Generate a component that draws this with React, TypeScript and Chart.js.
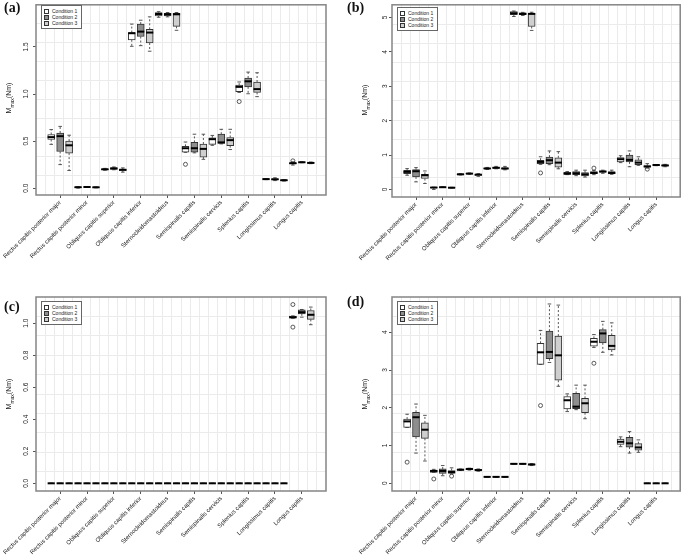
import React, { useEffect, useRef } from "react";
import { Chart, registerables } from "chart.js";

Chart.register(...registerables);

// ---------------- data ----------------
const MUSCLES = [
  "Rectus capitis posterior major",
  "Rectus capitis posterior minor",
  "Obliquus capitis superior",
  "Obliquus capitis inferior",
  "Sternocleidomastoideus",
  "Semispinalis capitis",
  "Semispinalis cervicis",
  "Splenius capitis",
  "Longissimus capitis",
  "Longus capitis",
];
const CONDITIONS = ["Condition 1", "Condition 2", "Condition 3"];

// each entry: [lower whisker, Q1, median, Q3, upper whisker]
const A_COND1 = [
  [0.465, 0.517, 0.542, 0.57, 0.622],
  [0.0, 0.008, 0.01, 0.012, 0.015],
  [0.19, 0.197, 0.2, 0.205, 0.21],
  [1.507, 1.576, 1.646, 1.653, 1.743],
  [1.816, 1.83, 1.85, 1.865, 1.875],
  [0.38, 0.382, 0.424, 0.444, 0.49],
  [0.455, 0.465, 0.52, 0.535, 0.56],
  [1.017, 1.024, 1.076, 1.094, 1.128],
  [0.09, 0.093, 0.096, 0.099, 0.1],
  [0.245, 0.258, 0.265, 0.27, 0.28],
];
const A_COND2 = [
  [0.25, 0.389, 0.552, 0.586, 0.656],
  [0.01, 0.011, 0.012, 0.013, 0.015],
  [0.195, 0.2, 0.21, 0.215, 0.225],
  [1.514, 1.611, 1.663, 1.743, 1.784],
  [1.82, 1.83, 1.847, 1.858, 1.866],
  [0.375, 0.382, 0.424, 0.486, 0.573],
  [0.47, 0.476, 0.486, 0.573, 0.625],
  [1.003, 1.076, 1.135, 1.17, 1.233],
  [0.08, 0.088, 0.094, 0.1, 0.11],
  [0.27, 0.272, 0.275, 0.277, 0.28],
];
const A_COND3 = [
  [0.1875, 0.372, 0.455, 0.5, 0.5625],
  [0.003, 0.007, 0.009, 0.011, 0.013],
  [0.17, 0.185, 0.195, 0.2, 0.215],
  [1.455, 1.542, 1.653, 1.6875, 1.82],
  [1.677, 1.719, 1.847, 1.858, 1.866],
  [0.306, 0.33, 0.417, 0.469, 0.573],
  [0.41, 0.451, 0.51, 0.538, 0.625],
  [0.972, 1.017, 1.052, 1.128, 1.226],
  [0.075, 0.08, 0.084, 0.088, 0.09],
  [0.26, 0.264, 0.268, 0.272, 0.277],
];
// [muscle index, condition index, value]
const A_OUTLIERS = [
  [5, 0, 0.253],
  [7, 0, 0.92],
  [9, 0, 0.29],
];

const B_COND1 = [
  [0.413, 0.462, 0.51, 0.558, 0.606],
  [0.0, 0.05, 0.055, 0.06, 0.065],
  [0.42, 0.43, 0.44, 0.45, 0.46],
  [0.58, 0.6, 0.61, 0.62, 0.64],
  [5.03, 5.08, 5.125, 5.17, 5.19],
  [0.73, 0.75, 0.8, 0.85, 0.95],
  [0.43, 0.44, 0.46, 0.5, 0.52],
  [0.43, 0.46, 0.48, 0.52, 0.55],
  [0.78, 0.8, 0.88, 0.93, 0.98],
  [0.62, 0.65, 0.67, 0.69, 0.75],
];
const B_COND2 = [
  [0.22, 0.365, 0.529, 0.577, 0.635],
  [0.06, 0.062, 0.065, 0.07, 0.075],
  [0.44, 0.45, 0.46, 0.47, 0.48],
  [0.6, 0.61, 0.63, 0.64, 0.67],
  [5.06, 5.08, 5.106, 5.14, 5.15],
  [0.72, 0.75, 0.85, 0.94, 1.12],
  [0.4, 0.43, 0.47, 0.52, 0.56],
  [0.47, 0.5, 0.52, 0.54, 0.56],
  [0.66, 0.8, 0.86, 1.0, 1.12],
  [0.69, 0.7, 0.71, 0.72, 0.72],
];
const B_COND3 = [
  [0.173, 0.317, 0.413, 0.44, 0.538],
  [0.04, 0.045, 0.05, 0.058, 0.062],
  [0.38, 0.41, 0.43, 0.44, 0.46],
  [0.57, 0.59, 0.61, 0.63, 0.67],
  [4.625, 4.74, 5.106, 5.125, 5.154],
  [0.6, 0.65, 0.78, 0.92, 1.1],
  [0.36, 0.39, 0.44, 0.49, 0.56],
  [0.44, 0.46, 0.48, 0.52, 0.56],
  [0.7, 0.72, 0.78, 0.86, 0.95],
  [0.66, 0.68, 0.7, 0.71, 0.73],
];
const B_OUTLIERS = [
  [5, 0, 0.48],
  [7, 0, 0.62],
  [9, 0, 0.59],
];

const C_COND1 = [
  [0, 0, 0, 0, 0], [0, 0, 0, 0, 0], [0, 0, 0, 0, 0], [0, 0, 0, 0, 0], [0, 0, 0, 0, 0],
  [0, 0, 0, 0, 0], [0, 0, 0, 0, 0], [0, 0, 0, 0, 0], [0, 0, 0, 0, 0],
  [1.03, 1.031, 1.037, 1.044, 1.045],
];
const C_COND2 = [
  [0, 0, 0, 0, 0], [0, 0, 0, 0, 0], [0, 0, 0, 0, 0], [0, 0, 0, 0, 0], [0, 0, 0, 0, 0],
  [0, 0, 0, 0, 0], [0, 0, 0, 0, 0], [0, 0, 0, 0, 0], [0, 0, 0, 0, 0],
  [1.037, 1.058, 1.068, 1.083, 1.085],
];
const C_COND3 = [
  [0, 0, 0, 0, 0], [0, 0, 0, 0, 0], [0, 0, 0, 0, 0], [0, 0, 0, 0, 0], [0, 0, 0, 0, 0],
  [0, 0, 0, 0, 0], [0, 0, 0, 0, 0], [0, 0, 0, 0, 0], [0, 0, 0, 0, 0],
  [0.99, 1.023, 1.052, 1.079, 1.1],
];
const C_OUTLIERS = [
  [9, 0, 1.116],
  [9, 0, 0.975],
];

const D_COND1 = [
  [1.48, 1.48, 1.64, 1.7, 1.83],
  [0.29, 0.291, 0.327, 0.353, 0.37],
  [0.34, 0.35, 0.36, 0.37, 0.38],
  [0.165, 0.168, 0.17, 0.172, 0.175],
  [0.505, 0.51, 0.515, 0.52, 0.525],
  [3.15, 3.15, 3.47, 3.71, 4.05],
  [1.9, 1.97, 2.2, 2.3, 2.37],
  [3.6, 3.63, 3.75, 3.84, 3.94],
  [0.97, 1.03, 1.1, 1.17, 1.23],
  [0, 0, 0, 0, 0],
];
const D_COND2 = [
  [0.8, 1.23, 1.75, 1.88, 2.1],
  [0.2, 0.265, 0.327, 0.38, 0.47],
  [0.35, 0.36, 0.38, 0.39, 0.4],
  [0.165, 0.168, 0.17, 0.172, 0.175],
  [0.505, 0.51, 0.515, 0.52, 0.525],
  [3.2, 3.3, 3.48, 4.03, 4.75],
  [1.95, 1.98, 2.03, 2.38, 2.6],
  [3.47, 3.72, 3.97, 4.07, 4.29],
  [0.8, 0.96, 1.06, 1.22, 1.37],
  [0, 0, 0, 0, 0],
];
const D_COND3 = [
  [0.59, 1.19, 1.42, 1.6, 1.8],
  [0.25, 0.26, 0.3, 0.34, 0.41],
  [0.32, 0.34, 0.35, 0.37, 0.38],
  [0.16, 0.165, 0.17, 0.172, 0.175],
  [0.47, 0.48, 0.5, 0.51, 0.52],
  [2.57, 2.73, 3.39, 3.9, 4.72],
  [1.71, 1.87, 2.12, 2.25, 2.6],
  [3.4, 3.53, 3.64, 3.92, 4.25],
  [0.82, 0.88, 0.95, 1.05, 1.15],
  [0, 0, 0, 0, 0],
];
const D_OUTLIERS = [
  [0, 0, 0.56],
  [1, 0, 0.115],
  [1, 2, 0.19],
  [5, 0, 2.06],
  [7, 0, 3.18],
];

const A_Y_TICKS = [0, 0.5, 1, 1.5];
const A_Y_LABELS = ["0.0", "0.5", "1.0", "1.5"];
const B_Y_TICKS = [0, 1, 2, 3, 4, 5];
const B_Y_LABELS = ["0", "1", "2", "3", "4", "5"];
const C_Y_TICKS = [0, 0.2, 0.4, 0.6, 0.8, 1.0];
const C_Y_LABELS = ["0.0", "0.2", "0.4", "0.6", "0.8", "1.0"];
const D_Y_TICKS = [0, 1, 2, 3, 4];
const D_Y_LABELS = ["0", "1", "2", "3", "4"];

// ---------------- styling / layout ----------------
const FILLS = ["#ffffff", "#8e8e8e", "#cfcfcf"];
const FONT = "'Liberation Sans', Arial, sans-serif";
const X_MIN = -0.7;
const X_MAX = 31.7;

type Spec = {
  label: string;
  left: number;
  top: number;
  width: number;
  height: number;
  area: { l: number; t: number; r: number; b: number };
  yMin: number;
  yMax: number;
  yTicks: number[];
  yLabels: string[];
  conds: number[][][];
  outliers: number[][];
  labelPos: { x: number; y: number };
};

const PANELS: Spec[] = [
  {
    label: "(a)", left: 0, top: 0, width: 342, height: 277,
    area: { l: 36, t: 1, r: 326, b: 195 },
    yMin: -0.073, yMax: 1.948, yTicks: A_Y_TICKS, yLabels: A_Y_LABELS,
    conds: [A_COND1, A_COND2, A_COND3], outliers: A_OUTLIERS,
    labelPos: { x: 4, y: 1 },
  },
  {
    label: "(b)", left: 342, top: 0, width: 343, height: 277,
    area: { l: 50, t: 3, r: 341, b: 197 },
    yMin: -0.22, yMax: 5.37, yTicks: B_Y_TICKS, yLabels: B_Y_LABELS,
    conds: [B_COND1, B_COND2, B_COND3], outliers: B_OUTLIERS,
    labelPos: { x: 5, y: 1 },
  },
  {
    label: "(c)", left: 0, top: 277, width: 342, height: 278,
    area: { l: 36, t: 20, r: 326, b: 214 },
    yMin: -0.048, yMax: 1.163, yTicks: C_Y_TICKS, yLabels: C_Y_LABELS,
    conds: [C_COND1, C_COND2, C_COND3], outliers: C_OUTLIERS,
    labelPos: { x: 4, y: 23 },
  },
  {
    label: "(d)", left: 342, top: 277, width: 343, height: 278,
    area: { l: 50, t: 20, r: 341, b: 214 },
    yMin: -0.204, yMax: 4.935, yTicks: D_Y_TICKS, yLabels: D_Y_LABELS,
    conds: [D_COND1, D_COND2, D_COND3], outliers: D_OUTLIERS,
    labelPos: { x: 5, y: 18 },
  },
];

const boxPos = (mi: number, ci: number) => mi * 3 + ci + 1;

function makeBoxPlugin(spec: Spec) {
  return {
    id: "boxWhiskers",
    beforeDatasetsDraw(chart: any) {
      const { ctx } = chart;
      const x = chart.scales.x;
      const y = chart.scales.y;
      ctx.save();
      spec.conds.forEach((cond, ci) =>
        cond.forEach((s, mi) => {
          const p = boxPos(mi, ci);
          const px = x.getPixelForValue(p);
          const cap = x.getPixelForValue(p + 0.2) - px;
          const yLo = y.getPixelForValue(s[0]);
          const yQ1 = y.getPixelForValue(s[1]);
          const yQ3 = y.getPixelForValue(s[3]);
          const yHi = y.getPixelForValue(s[4]);
          ctx.strokeStyle = "#444";
          ctx.lineWidth = 0.9;
          ctx.setLineDash([2, 2]);
          ctx.beginPath();
          ctx.moveTo(px, yQ3);
          ctx.lineTo(px, yHi);
          ctx.moveTo(px, yQ1);
          ctx.lineTo(px, yLo);
          ctx.stroke();
          ctx.setLineDash([]);
          ctx.beginPath();
          ctx.moveTo(px - cap, yHi);
          ctx.lineTo(px + cap, yHi);
          ctx.moveTo(px - cap, yLo);
          ctx.lineTo(px + cap, yLo);
          ctx.stroke();
        })
      );
      ctx.restore();
    },
    afterDatasetsDraw(chart: any) {
      const { ctx } = chart;
      const x = chart.scales.x;
      const y = chart.scales.y;
      ctx.save();
      ctx.strokeStyle = "#000";
      ctx.lineWidth = 2;
      spec.conds.forEach((cond, ci) =>
        cond.forEach((s, mi) => {
          const p = boxPos(mi, ci);
          const x0 = x.getPixelForValue(p - 0.4);
          const x1 = x.getPixelForValue(p + 0.4);
          const ym = y.getPixelForValue(s[2]);
          ctx.beginPath();
          ctx.moveTo(x0, ym);
          ctx.lineTo(x1, ym);
          ctx.stroke();
        })
      );
      ctx.restore();
    },
    afterDraw(chart: any) {
      const { ctx, chartArea: a } = chart;
      ctx.save();
      ctx.strokeStyle = "#858585";
      ctx.lineWidth = 1.5;
      ctx.strokeRect(a.left, a.top, a.right - a.left, a.bottom - a.top);
      ctx.restore();
    },
  };
}

function buildConfig(spec: Spec): any {
  const { width: W, height: H, area, yMin, yMax } = spec;
  const datasets: any[] = spec.conds.map((cond, ci) => ({
    type: "bar",
    label: CONDITIONS[ci],
    xAxisID: "x",
    yAxisID: "y",
    data: cond.map((s, mi) => ({ x: boxPos(mi, ci), y: [s[1], s[3]] })),
    backgroundColor: FILLS[ci],
    borderColor: "#333",
    borderWidth: 1,
    borderSkipped: false,
    barThickness: 7,
    grouped: false,
    order: 2,
  }));
  datasets.push({
    type: "scatter",
    label: "outliers",
    xAxisID: "x",
    yAxisID: "y",
    data: spec.outliers.map(([mi, ci, v]) => ({ x: boxPos(mi, ci), y: v })),
    pointStyle: "circle",
    pointRadius: 2,
    borderColor: "#333",
    backgroundColor: "rgba(0,0,0,0)",
    borderWidth: 0.8,
    order: 1,
  });

  const gridX: number[] = [];
  for (let k = 1; k < 32; k++) gridX.push(X_MIN + (k * (X_MAX - X_MIN)) / 32);
  const gridY: number[] = [];
  for (let k = 1; k < 10; k++) gridY.push(yMin + (k * (yMax - yMin)) / 10);

  const zeroPad = (s: any) => {
    s.paddingLeft = 0;
    s.paddingRight = 0;
    s.paddingTop = 0;
    s.paddingBottom = 0;
  };

  return {
    type: "bar",
    data: { datasets },
    plugins: [makeBoxPlugin(spec)],
    options: {
      responsive: false,
      animation: false,
      devicePixelRatio: 1,
      layout: { padding: { left: 0, top: area.t, right: W - area.r, bottom: 0 } },
      plugins: { legend: { display: false }, tooltip: { enabled: false } },
      scales: {
        x: {
          type: "linear",
          position: "bottom",
          min: X_MIN,
          max: X_MAX,
          offset: false,
          afterBuildTicks: (s: any) => {
            s.ticks = MUSCLES.map((_, i) => ({ value: boxPos(i, 1) }));
          },
          afterFit: (s: any) => {
            s.height = H - area.b;
            zeroPad(s);
          },
          ticks: {
            autoSkip: false,
            minRotation: 45,
            maxRotation: 45,
            padding: 1,
            color: "#222",
            font: { size: 6, family: FONT },
            callback: (_v: any, i: number) => MUSCLES[i],
          },
          grid: { drawOnChartArea: false, drawTicks: true, tickLength: 3, color: "#555", offset: false },
          border: { display: false },
        },
        xg: {
          type: "linear",
          position: "bottom",
          min: X_MIN,
          max: X_MAX,
          offset: false,
          afterBuildTicks: (s: any) => {
            s.ticks = gridX.map((v) => ({ value: v }));
          },
          afterFit: (s: any) => {
            s.height = 0;
            zeroPad(s);
          },
          ticks: { display: false },
          grid: { color: "#ebebeb", lineWidth: 1, drawTicks: false, offset: false },
          border: { display: false },
        },
        y: {
          type: "linear",
          position: "left",
          min: yMin,
          max: yMax,
          afterBuildTicks: (s: any) => {
            s.ticks = spec.yTicks.map((v) => ({ value: v }));
          },
          afterFit: (s: any) => {
            s.width = area.l;
            zeroPad(s);
          },
          ticks: {
            minRotation: 90,
            maxRotation: 90,
            crossAlign: "center",
            padding: 2,
            color: "#222",
            font: { size: 6.5, family: FONT },
            callback: (_v: any, i: number) => spec.yLabels[i],
          },
          grid: { drawOnChartArea: false, drawTicks: true, tickLength: 3, color: "#555" },
          border: { display: false },
        },
        yg: {
          type: "linear",
          position: "left",
          min: yMin,
          max: yMax,
          afterBuildTicks: (s: any) => {
            s.ticks = gridY.map((v) => ({ value: v }));
          },
          afterFit: (s: any) => {
            s.width = 0;
            zeroPad(s);
          },
          ticks: { display: false },
          grid: { color: "#ebebeb", lineWidth: 1, drawTicks: false },
          border: { display: false },
        },
      },
    },
  };
}

function Legend({ left, top }: { left: number; top: number }) {
  return (
    <div
      style={{
        position: "absolute",
        left,
        top,
        width: 37,
        padding: "2px 0 2px 2px",
        border: "1px solid #666",
        background: "#fff",
        fontFamily: FONT,
        fontSize: 5,
        lineHeight: "6px",
        color: "#222",
      }}
    >
      {CONDITIONS.map((c, i) => (
        <div key={c} style={{ display: "flex", alignItems: "center", height: 6, whiteSpace: "nowrap" }}>
          <span
            style={{
              display: "inline-block",
              width: 3,
              height: 3,
              border: "0.8px solid #333",
              background: FILLS[i],
              marginRight: 3,
            }}
          />
          <span>{c}</span>
        </div>
      ))}
    </div>
  );
}

function Panel({ spec }: { spec: Spec }) {
  const ref = useRef<HTMLCanvasElement>(null);
  useEffect(() => {
    const chart = new Chart(ref.current as HTMLCanvasElement, buildConfig(spec));
    return () => chart.destroy();
  }, [spec]);
  const midY = (spec.area.t + spec.area.b) / 2;
  return (
    <div style={{ position: "absolute", left: spec.left, top: spec.top, width: spec.width, height: spec.height }}>
      <canvas
        ref={ref}
        width={spec.width}
        height={spec.height}
        style={{ position: "absolute", left: 0, top: 0, width: spec.width, height: spec.height, display: "block" }}
      />
      <div
        style={{
          position: "absolute",
          left: spec.labelPos.x,
          top: spec.labelPos.y,
          fontFamily: "'Liberation Serif', 'Times New Roman', serif",
          fontWeight: "bold",
          fontSize: 14,
          lineHeight: "14px",
          color: "#111",
        }}
      >
        {spec.label}
      </div>
      <div
        style={{
          position: "absolute",
          left: spec.area.l - 26,
          top: midY,
          transform: "translate(-50%, -50%) rotate(-90deg)",
          fontFamily: FONT,
          fontSize: 7,
          whiteSpace: "nowrap",
          color: "#222",
        }}
      >
        M<sub style={{ fontSize: 5 }}>max</sub>(Nm)
      </div>
      <Legend left={spec.area.l + 5} top={spec.area.t + 4} />
    </div>
  );
}

export default function App() {
  return (
    <div style={{ position: "absolute", left: 0, top: 0, width: 685, height: 555, background: "#fff", overflow: "hidden" }}>
      {PANELS.map((p) => (
        <Panel key={p.label} spec={p} />
      ))}
    </div>
  );
}
